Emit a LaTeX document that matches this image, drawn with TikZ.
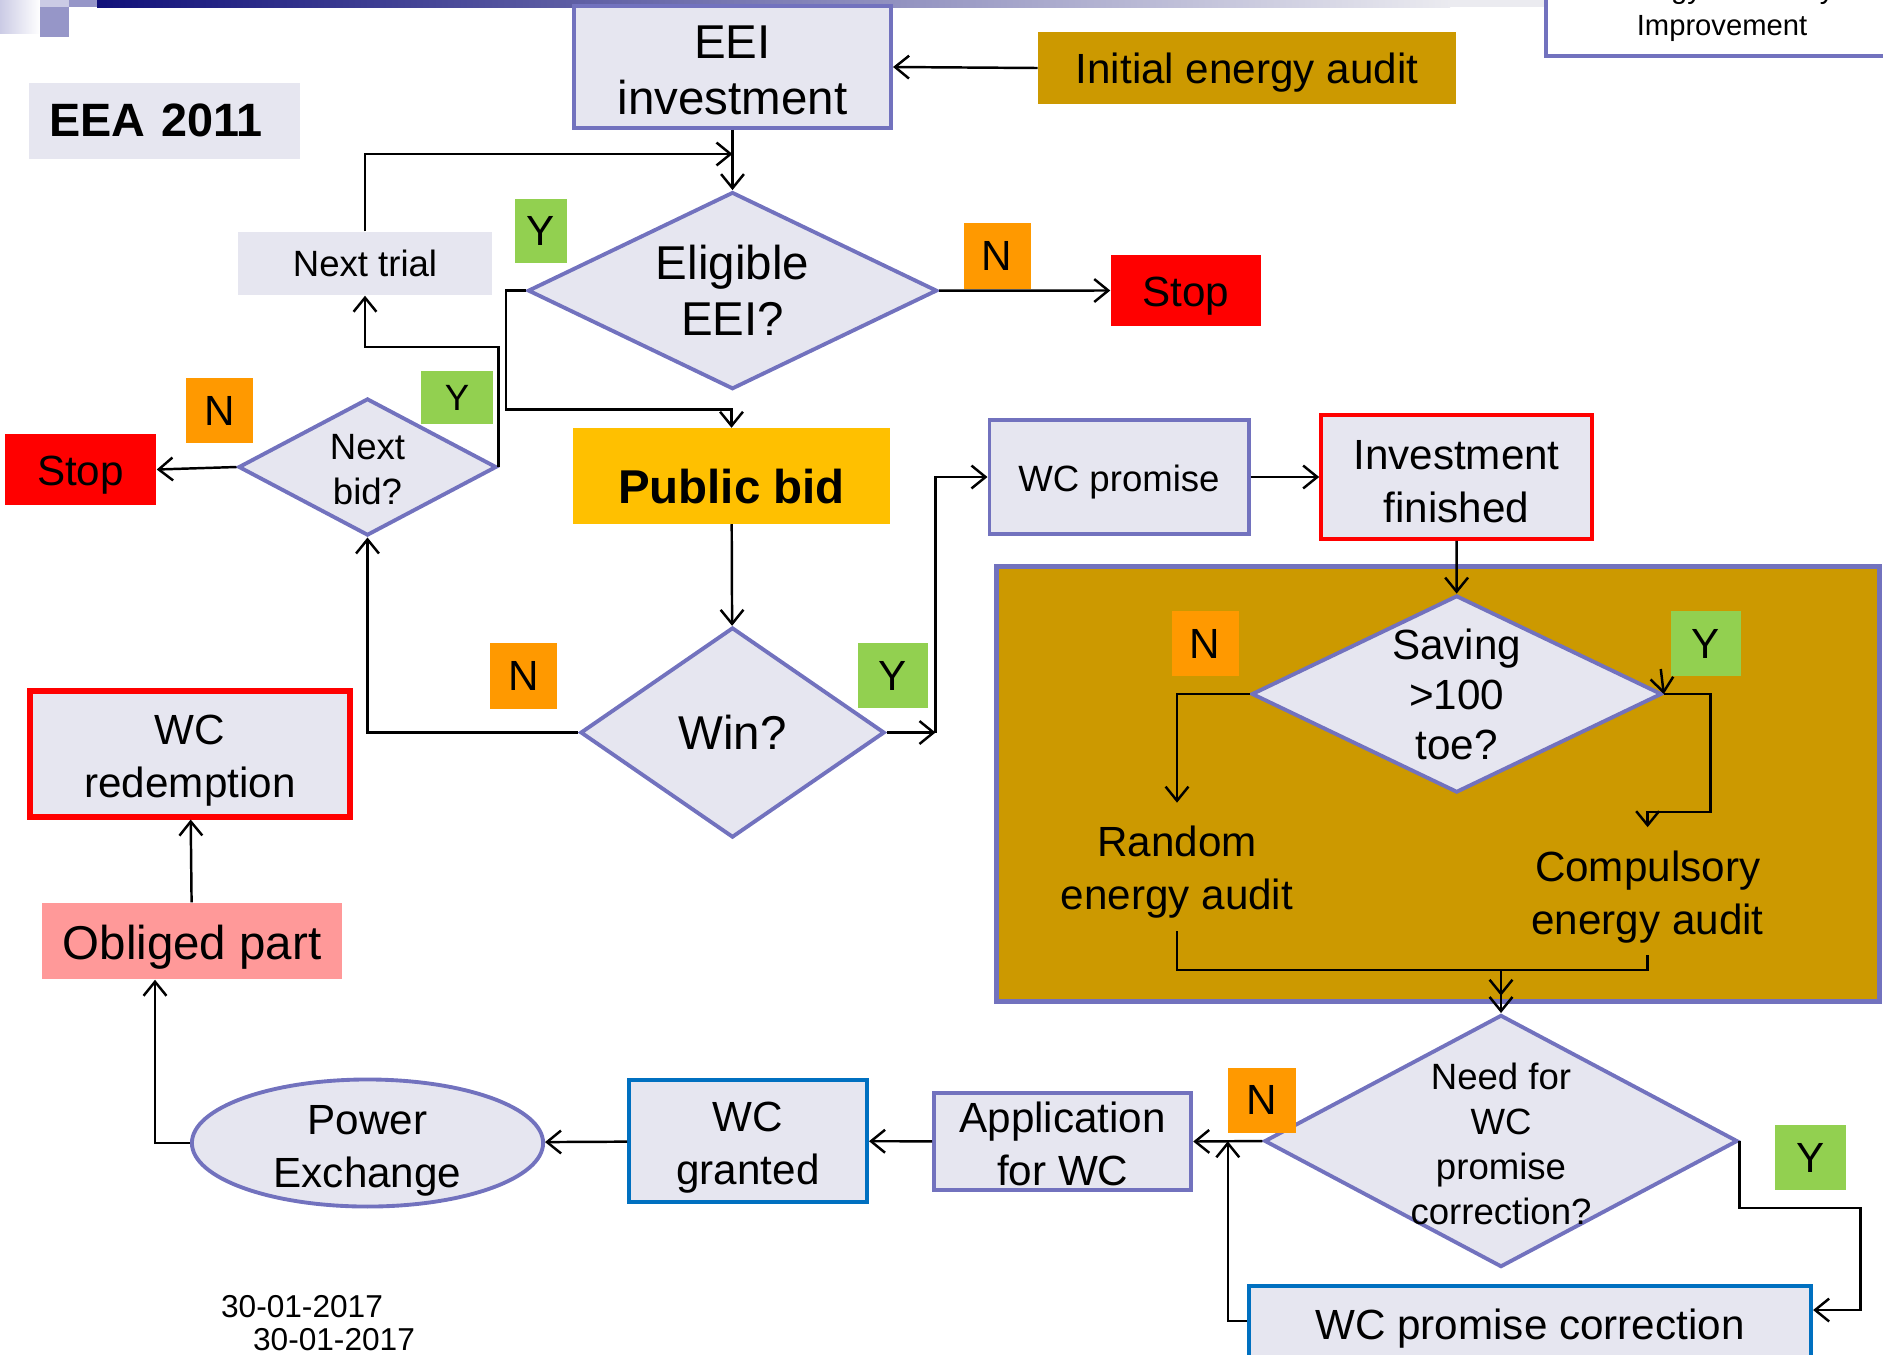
\documentclass[tikz,border=0pt]{standalone}
\usepackage{fontspec}
\setmainfont{Liberation Sans}
\usepackage{tikz}
\usetikzlibrary{arrows.meta,positioning,calc,shapes.geometric}
\definecolor{nodefill}{HTML}{E6E6F0}
\definecolor{edgepurple}{HTML}{7272BE}
\definecolor{edgeblue}{HTML}{0070C0}
\definecolor{auditgold}{HTML}{CC9900}
\definecolor{bidamber}{HTML}{FFC000}
\definecolor{stopred}{HTML}{FF0000}
\definecolor{flagorange}{HTML}{FF9900}
\definecolor{flaggreen}{HTML}{92D050}
\definecolor{obligpink}{HTML}{FF9999}
\definecolor{barnavy}{HTML}{11117A}
\definecolor{barfade}{HTML}{EBEBF0}
\definecolor{decolight}{HTML}{CBCBE5}
\definecolor{decomid}{HTML}{9696C8}

\begin{document}
\begin{tikzpicture}[x=0.01cm,y=-0.01cm,
  box/.style={draw=edgepurple,line width=1.1pt,fill=nodefill,align=center,
    inner sep=0pt,font=\fontsize{12}{15}\selectfont},
  flat/.style={align=center,inner sep=0pt,font=\fontsize{12}{15}\selectfont},
  dec/.style={diamond,draw=edgepurple,line width=1.1pt,fill=nodefill,inner sep=0pt},
  dectext/.style={align=center,inner sep=0pt},
  flagn/.style={fill=flagorange,minimum width=0.67cm,minimum height=0.65cm,
    inner sep=0pt,font=\fontsize{12}{15}\selectfont},
  flagy/.style={fill=flaggreen,minimum width=0.7cm,minimum height=0.65cm,
    inner sep=0pt,font=\fontsize{12}{15}\selectfont},
  big/.style={font=\fontsize{13.5}{16}\selectfont},
  small/.style={font=\fontsize{10.4}{12.8}\selectfont},
  arr/.style={-{Straight Barb[length=4pt,width=6.5pt]},line width=0.7pt},
  arrtwo/.style={-{Straight Barb[length=4pt,width=6.5pt] Straight Barb[length=4pt,width=6.5pt]},line width=0.7pt},
  ln/.style={line width=0.7pt}
]
\useasboundingbox (0,0) rectangle (1883,1354);
\shade[left color=decolight,right color=white] (0,0) rectangle (40,33);
\fill[decolight] (40,0) rectangle (69,7);
\fill[decomid] (40,7) rectangle (69,37);
\fill[decomid] (69,0) rectangle (97,7);
\shade[left color=barnavy,right color=barfade] (97,0) rectangle (1450,7);
\fill[barfade] (1450,0) rectangle (1546,7);

\node[box,fill=white,minimum width=3.52cm,minimum height=0.98cm,text height=17.7pt,text depth=1.75pt,
  font=\fontsize{8.3}{10.4}\selectfont] (impr) at (1722,7) {Energy Efficiency\\Improvement};
\node[flat,fill=nodefill,text width=2.3cm,inner xsep=0.204cm,align=left,minimum height=0.76cm,
  font=\bfseries\fontsize{13.3}{15}\selectfont] (eea) at (164.5,120.7) {EEA 2011};

\node[box,big,minimum width=3.17cm,minimum height=1.22cm,text height=27pt,text depth=0pt] (eei) at (732.5,67) {EEI\\investment};
\node[flat,fill=auditgold,minimum width=4.17cm,minimum height=0.71cm,text height=11.3pt,text depth=2.5pt] (audit) at (1247,68) {Initial energy audit};
\node[dec,minimum width=4.09cm,minimum height=1.97cm,
  label={[dectext,big]center:Eligible\\EEI?}] (elig) at (732.5,290.6) {};
\node[flagy,minimum width=0.52cm,minimum height=0.64cm] (ye) at (541,231) {Y};
\node[flagn] (ne) at (997,256) {N};
\node[flat,fill=stopred,minimum width=1.5cm,minimum height=0.7cm,text height=11.8pt,text depth=2.5pt] (stopr) at (1186,290.5) {Stop};

\node[flat,small,fill=nodefill,minimum width=2.54cm,minimum height=0.63cm] (trial) at (365,263.5) {Next trial};
\node[dec,minimum width=2.58cm,minimum height=1.37cm,
  label={[dectext,small,yshift=-0.7pt]center:Next\\bid?}] (nbid) at (367.5,467) {};
\node[flagn] (nn) at (219.5,410.5) {N};
\node[flagy,small,minimum width=0.71cm,minimum height=0.53cm] (yn) at (457,397.5) {Y};
\node[flat,fill=stopred,minimum width=1.51cm,minimum height=0.7cm,text height=11.8pt,text depth=2.5pt] (stopl) at (80.5,469.5) {Stop};

\node[flat,fill=bidamber,minimum width=3.17cm,minimum height=0.95cm,text height=15.8pt,text depth=0pt,
  font=\bfseries\fontsize{13.5}{16}\selectfont] (bid) at (731.5,476) {Public bid};
\node[dec,minimum width=3.04cm,minimum height=2.1cm,
  label={[dectext,big]center:Win?}] (win) at (732.5,732.5) {};
\node[flagn] (nw) at (523.5,676) {N};
\node[flagy] (yw) at (892.7,675.5) {Y};

\node[box,small,minimum width=2.59cm,minimum height=1.14cm,text height=10.2pt,text depth=2.2pt] (wcp) at (1119,477) {WC promise};
\node[box,draw=stopred,line width=1pt,minimum width=2.71cm,minimum height=1.24cm,
  text height=25.6pt,text depth=0pt] (inv) at (1456.5,477) {Investment\\finished};

\node[draw=edgepurple,line width=1.4pt,fill=auditgold,minimum width=8.82cm,
  minimum height=4.345cm,inner sep=0pt] (panel) at (1438,784) {};
\node[dec,minimum width=4.1cm,minimum height=1.97cm,
  label={[dectext,font=\fontsize{12}{14.2}\selectfont]center:Saving\\>100\\toe?}] (save) at (1456.7,694) {};
\node[flagn] (ns) at (1205,643.7) {N};
\node[flagy] (ys) at (1706,643.7) {Y};
\node[flat,inner sep=3.5pt,text height=26.7pt,text depth=2.5pt] (rand) at (1177,867) {Random\\energy audit};
\node[flat,inner sep=3.2pt,text height=27pt,text depth=2.5pt] (comp) at (1647.6,891) {Compulsory\\energy audit};

\node[dec,minimum width=4.73cm,minimum height=2.52cm,
  label={[dectext,small,yshift=-0.7pt]center:Need for\\WC\\promise\\correction?}] (need) at (1501,1141) {};
\node[flagn,minimum width=0.68cm] (nc) at (1261.5,1100) {N};
\node[flagy,minimum width=0.71cm] (yc) at (1810.5,1157.7) {Y};
\node[box,draw=edgeblue,minimum width=5.62cm,minimum height=0.74cm,text height=12pt,text depth=2.5pt] (wcc) at (1530,1323) {WC promise correction};
\node[box,minimum width=2.57cm,minimum height=0.97cm,text height=25pt,text depth=0pt] (app) at (1062.7,1141.5) {Application\\for WC};
\node[box,draw=edgeblue,minimum width=2.38cm,minimum height=1.22cm,text height=27pt,text depth=2.5pt] (gr) at (748,1141) {WC\\granted};
\node[box,ellipse,minimum width=3.51cm,minimum height=1.27cm,inner ysep=-3pt,
  text height=27.6pt,text depth=2.5pt] (px) at (367.5,1143) {Power\\Exchange};
\node[flat,big,fill=obligpink,minimum width=3cm,minimum height=0.76cm,text height=13.4pt,text depth=2.8pt] (obl) at (192,941) {Obliged part};
\node[box,draw=stopred,line width=1.7pt,minimum width=3.19cm,minimum height=1.25cm,
  text height=27pt,text depth=2.5pt] (wcr) at (190,754) {WC\\redemption};

\node[flat,font=\fontsize{9}{11}\selectfont] (date1) at (302,1306.5) {30-01-2017};
\node[flat,font=\fontsize{9}{11}\selectfont] (date2) at (334,1339.5) {30-01-2017};

\coordinate (tj) at (eei.south |- 0,154);
\coordinate (wy) at (935.5,732.5);
\coordinate (mrg) at (1501,970);
\coordinate (nj) at ($(app.east)!0.5!(need.west)$);

\draw[arr] (audit.west) -- (eei.east);
\draw[arr] (eei) -- (elig);
\draw[arr] (trial.north) |- (tj);
\draw[arr] (elig.east) -- (stopr.west);
\draw[arr] (elig.west) -| (506,409.5) -| (bid.north);
\draw[arr] (nbid.west) -- (stopl.east);
\draw[arr] (nbid.east) -- ++(0,-120) -| (trial.south);
\draw[arr] (bid) -- (win);
\draw[arr] (win.west) -| (nbid.south);
\draw[arr] (win.east) -- (wy);
\draw[arr] (wy) |- (wcp.west);
\draw[arr] (wcp) -- (inv);
\draw[arr] (inv) -- (save);
\draw[arr] (save.west) -| (rand.north);
\draw[arr] ([shift={(-3,-25)}]save.east) -- (save.east);
\draw[arr] (save.east) -| ++(46.7,118) -| (comp.north);
\draw[ln] (rand.south) |- (mrg) -| (comp.south);
\draw[arrtwo] (mrg) -- (need.north);
\draw[arr] (need.west) -- (app.east);
\draw[arr] (need.east) -- ++(0,67) -| ++(121,102) -- (wcc.east |- 0,1310);
\draw[arr] (wcc.west |- 0,1321) -| (nj);
\draw[arr] (app) -- (gr);
\draw[arr] (gr) -- (px);
\draw[arr] (px.west) -| (obl.south -| 155,0);
\draw[arr] (obl) -- (wcr);
\end{tikzpicture}
\end{document}
